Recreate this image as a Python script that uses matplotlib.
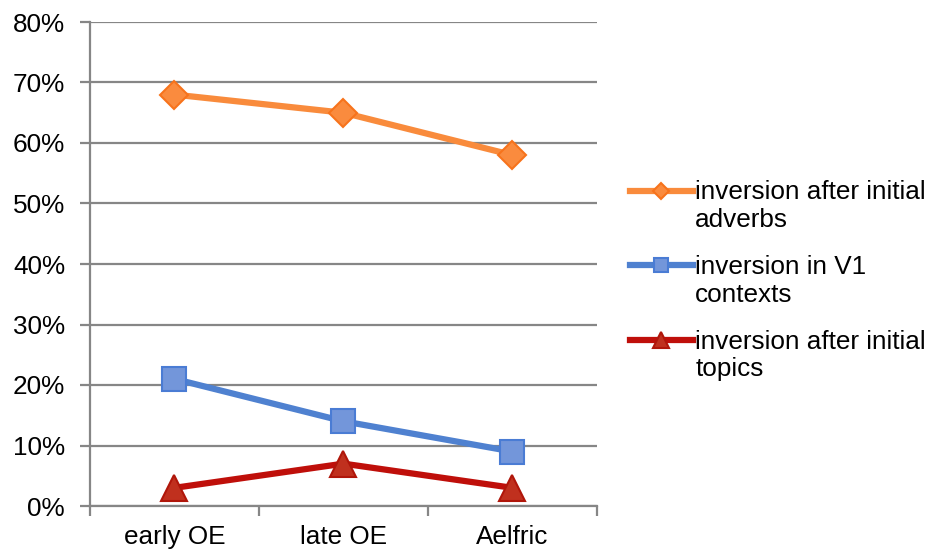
import numpy as np
import matplotlib
matplotlib.use('Agg')
import matplotlib.pyplot as plt
from matplotlib.legend_handler import HandlerLine2D

plt.rcParams['font.family'] = ['Liberation Sans', 'DejaVu Sans']

periods = ['early OE', 'late OE', 'Aelfric']
adverbs = [68, 65, 58]
v1 = [21, 14, 9]
topics = [3, 7, 3]
labels = ['inversion after initial\nadverbs', 'inversion in V1\ncontexts',
          'inversion after initial\ntopics']
yticks = [0, 10, 20, 30, 40, 50, 60, 70, 80]

FS = 18.8


class TopHandler(HandlerLine2D):
    # put the legend line next to the first text line, not the middle
    def create_artists(self, *args, **kwargs):
        arts = super().create_artists(*args, **kwargs)
        for a in arts:
            a.set_ydata(np.asarray(a.get_ydata()) + 0.6 * FS)
        return arts


fig = plt.figure(figsize=(9.32, 5.49), dpi=100)
ax = fig.add_axes([90/932, 43/549, 507/932, 484/549])

x = np.arange(len(periods))
ax.plot(x, adverbs, color='#F98B3C', lw=4.5, marker='D', ms=14,
        mfc='#FA8B3E', mec='#F7731C', mew=1.5, label=labels[0], zorder=3)
ax.plot(x, v1, color='#4F81D0', lw=4.5, marker='s', ms=17,
        mfc='#7396DA', mec='#4A7CD4', mew=1.5, label=labels[1], zorder=3)
ax.plot(x, topics, color='#BF0F0A', lw=4.5, marker='^', ms=19,
        mfc='#C0301E', mec='#B0160A', mew=1.5, label=labels[2], zorder=3)

ax.set_xlim(-0.5, 2.5)
ax.set_ylim(0, 80)
ax.set_yticks(yticks)
ax.set_yticklabels([f'{v}%' for v in yticks], fontsize=FS)
ax.yaxis.grid(True, color='#868686', lw=1.6)
ax.set_axisbelow(True)

ax.set_xticks([-0.5, 0.5, 1.5, 2.5])
ax.set_xticklabels([])
ax.set_xticks(x, minor=True)
ax.set_xticklabels(periods, minor=True, fontsize=FS)
ax.tick_params(axis='x', which='major', length=7, width=1.6, color='#868686')
ax.tick_params(axis='x', which='minor', length=0, pad=14)
ax.tick_params(axis='y', length=7, width=1.6, color='#868686', pad=11)

for s in ['top', 'right']:
    ax.spines[s].set_visible(False)
for s in ['left', 'bottom']:
    ax.spines[s].set_color('#868686')
    ax.spines[s].set_linewidth(1.6)

leg = fig.legend(loc='upper left', bbox_to_anchor=(630/932, 1 - 180/549),
                 frameon=False, fontsize=FS, handlelength=2.4,
                 handletextpad=0.1, markerscale=0.6, labelspacing=0.88,
                 borderaxespad=0, borderpad=0,
                 handler_map={matplotlib.lines.Line2D: TopHandler()})
for t in leg.get_texts():
    t.set_linespacing(1.2)

fig.savefig('out.png', dpi=100)
